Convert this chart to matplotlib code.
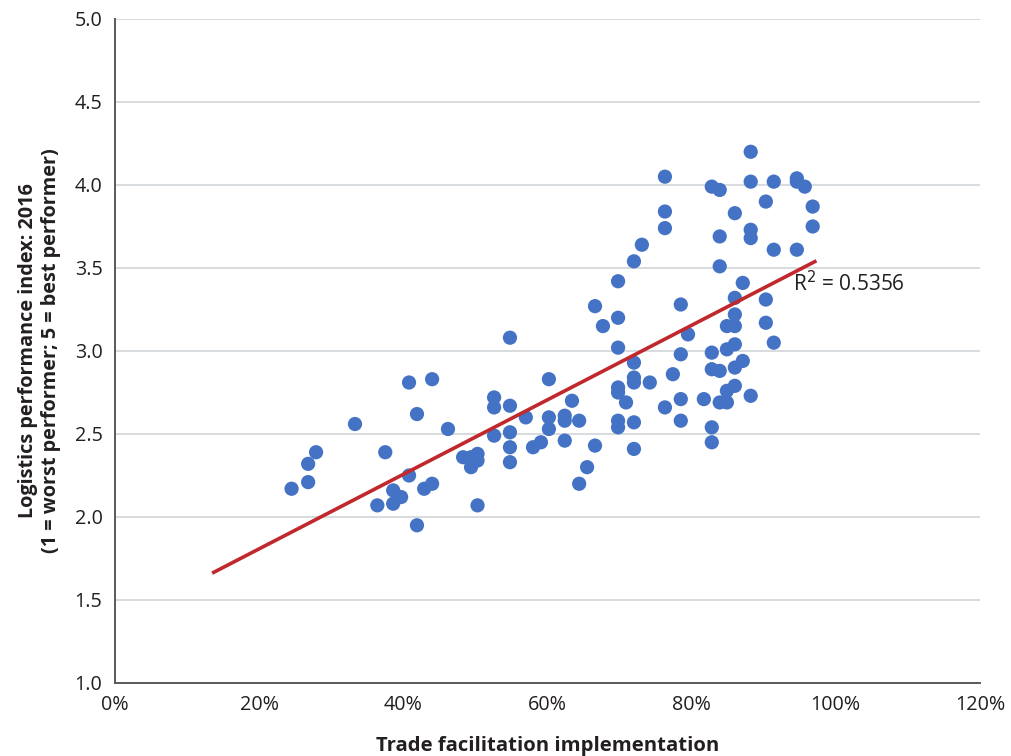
import matplotlib
matplotlib.use("Agg")
import matplotlib.pyplot as plt
import numpy as np
from matplotlib.ticker import PercentFormatter, MultipleLocator

plt.rcParams['font.family'] = ['Open Sans', 'DejaVu Sans']

# trade facilitation implementation (share) vs LPI 2016
tfi = [0.245, 0.268, 0.268, 0.279, 0.333, 0.364, 0.375, 0.386, 0.386, 0.397,
       0.408, 0.408, 0.419, 0.419, 0.429, 0.440, 0.440, 0.462, 0.483, 0.494,
       0.494, 0.503, 0.503, 0.503, 0.526, 0.526, 0.526, 0.548, 0.548, 0.548,
       0.548, 0.548, 0.570, 0.580, 0.591, 0.602, 0.602, 0.602, 0.624, 0.624,
       0.624, 0.634, 0.644, 0.644, 0.655, 0.666, 0.666, 0.677, 0.698, 0.698,
       0.698, 0.698, 0.698, 0.698, 0.698, 0.709, 0.720, 0.720, 0.720, 0.720,
       0.720, 0.720, 0.731, 0.742, 0.763, 0.763, 0.763, 0.763, 0.774, 0.785,
       0.785, 0.785, 0.785, 0.795, 0.817, 0.828, 0.828, 0.828, 0.828, 0.828,
       0.839, 0.839, 0.839, 0.839, 0.839, 0.849, 0.849, 0.849, 0.849, 0.860,
       0.860, 0.860, 0.860, 0.860, 0.860, 0.860, 0.871, 0.871, 0.882, 0.882,
       0.882, 0.882, 0.882, 0.903, 0.903, 0.903, 0.914, 0.914, 0.914, 0.946,
       0.946, 0.946, 0.957, 0.968, 0.968]
lpi = [2.17, 2.21, 2.32, 2.39, 2.56, 2.07, 2.39, 2.16, 2.08, 2.12,
       2.81, 2.25, 2.62, 1.95, 2.17, 2.83, 2.20, 2.53, 2.36, 2.30,
       2.36, 2.34, 2.38, 2.07, 2.72, 2.66, 2.49, 3.08, 2.67, 2.51,
       2.42, 2.33, 2.60, 2.42, 2.45, 2.83, 2.60, 2.53, 2.61, 2.58,
       2.46, 2.70, 2.58, 2.20, 2.30, 2.43, 3.27, 3.15, 3.42, 3.20,
       3.02, 2.78, 2.75, 2.58, 2.54, 2.69, 3.54, 2.93, 2.84, 2.81,
       2.57, 2.41, 3.64, 2.81, 4.05, 3.84, 3.74, 2.66, 2.86, 3.28,
       2.98, 2.71, 2.58, 3.10, 2.71, 3.99, 2.99, 2.89, 2.54, 2.45,
       3.97, 3.69, 3.51, 2.88, 2.69, 3.15, 3.01, 2.76, 2.69, 3.83,
       3.32, 3.22, 3.15, 3.04, 2.90, 2.79, 3.41, 2.94, 4.20, 4.02,
       3.73, 3.68, 2.73, 3.90, 3.31, 3.17, 4.02, 3.61, 3.05, 4.04,
       4.02, 3.61, 3.99, 3.87, 3.75]

trend_x = [0.137, 0.971]
r2_text = "R$^2$ = 0.5356"

fig = plt.figure(figsize=(10.12, 7.56), dpi=100)
ax = fig.add_axes([0.1136, 0.0966, 0.8547, 0.8783])

ax.scatter(tfi, lpi, s=105, color='#4472C4', edgecolors='none', zorder=3)

# linear trendline fitted to the points
coef = np.polyfit(tfi, lpi, 1)
tx = np.array(trend_x)
ax.plot(tx, np.polyval(coef, tx), color='#C0282D', lw=2.6, zorder=4)

ax.text(0.94, 3.36, r2_text, fontsize=15, color='#231F20', zorder=5)

ax.set_xlim(0, 1.2)
ax.set_ylim(1.0, 5.0)
ax.xaxis.set_major_locator(MultipleLocator(0.2))
ax.yaxis.set_major_locator(MultipleLocator(0.5))
ax.xaxis.set_major_formatter(PercentFormatter(1.0, decimals=0))
ax.yaxis.set_major_formatter(plt.FuncFormatter(lambda v, p: f"{v:.1f}"))

ax.grid(axis='y', color='#D5D9DC', lw=1.3, zorder=0)
ax.set_axisbelow(True)
for s in ['top', 'right']:
    ax.spines[s].set_visible(False)
for s in ['left', 'bottom']:
    ax.spines[s].set_color('#595959')
    ax.spines[s].set_linewidth(1.4)
ax.tick_params(length=0, labelsize=14.2, colors='#231F20', pad=9)

ax.set_xlabel("Trade facilitation implementation", fontsize=14.6,
              fontweight='bold', color='#231F20', labelpad=15)
ax.set_ylabel("Logistics performance index: 2016\n(1 = worst performer; 5 = best performer)",
              fontsize=14.3, fontweight='bold', color='#231F20', labelpad=10,
              linespacing=1.15)

fig.savefig("out.png", dpi=100)
